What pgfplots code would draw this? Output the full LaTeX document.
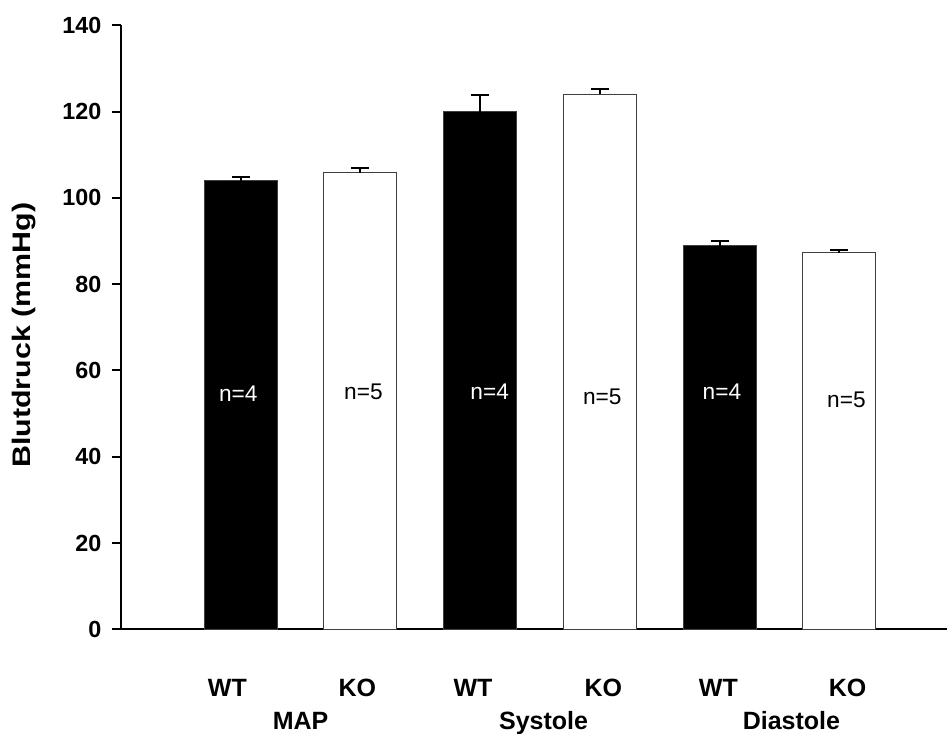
\documentclass[border=0pt]{standalone}
\usepackage{pgfplots}
\pgfplotsset{compat=1.18}
\usepackage{fontspec}
\setmainfont{Liberation Sans}

% measurements taken per pixel: 1px = 0.75pt
\begin{document}
\begin{tikzpicture}
\begin{axis}[
  name=ax,
  scale only axis,
  width=619.5pt, height=453pt,
  xmin=0, xmax=6.9,
  ymin=0, ymax=140,
  axis x line=bottom, axis y line=left,
  axis line style={-, line width=1.5pt, black},
  xtick=\empty,
  ytick={0,20,...,140},
  tick align=outside,
  major tick length=6.75pt,
  tick style={line width=1.5pt, black},
  /pgf/number format/assume math mode=true,
  yticklabel style={font=\bfseries\fontsize{17.5}{19}\selectfont, xshift=-4.5pt},
  clip=false,
  ybar, bar width=0.61,
]
% WT groups (black bars)
\addplot[bar shift=0pt, fill=black, draw=black!75, line width=0.75pt,
  error bars/.cd, y dir=plus, y explicit,
  error bar style={line width=1.5pt, black},
  error mark options={rotate=90, mark size=6.75pt, line width=1.5pt, black}]
  coordinates {(1,104.0) +- (0,0.9) (3,120.0) +- (0,3.8) (5,88.9) +- (0,1.15)};
% KO groups (white bars)
\addplot[bar shift=0pt, fill=white, draw=black!75, line width=0.75pt,
  error bars/.cd, y dir=plus, y explicit,
  error bar style={line width=1.5pt, black},
  error mark options={rotate=90, mark size=6.75pt, line width=1.5pt, black}]
  coordinates {(2,105.85) +- (0,1.0) (4,124.0) +- (0,1.3) (6,87.3) +- (0,0.7)};

% sample sizes inside the bars
\begin{scope}[every node/.style={font=\fontsize{17}{19}\selectfont}]
\node[white] at (axis cs:0.98,54.6) {n=4};
\node at (axis cs:2.025,55.0) {n=5};
\node[white] at (axis cs:3.08,55.0) {n=4};
\node at (axis cs:4.02,53.9) {n=5};
\node[white] at (axis cs:5.02,55.0) {n=4};
\node at (axis cs:6.06,53.1) {n=5};
\end{scope}

% group and genotype labels below the axis
\begin{scope}[every node/.style={font=\bfseries\fontsize{18.75}{20}\selectfont, anchor=base, inner sep=0pt}]
\node at ([yshift=-50.6pt]axis cs:0.889,0) {WT};
\node at ([yshift=-50.6pt]axis cs:1.974,0) {KO};
\node at ([yshift=-50.6pt]axis cs:2.94,0) {WT};
\node at ([yshift=-50.6pt]axis cs:4.03,0) {KO};
\node at ([yshift=-50.6pt]axis cs:4.99,0) {WT};
\node at ([yshift=-50.6pt]axis cs:6.07,0) {KO};
\node at ([yshift=-74.8pt]axis cs:1.50,0) {MAP};
\node at ([yshift=-74.8pt]axis cs:3.53,0) {Systole};
\node at ([yshift=-74.8pt]axis cs:5.60,0) {Diastole};
\end{scope}

% y axis title
\node[rotate=90, anchor=center, font=\bfseries\fontsize{19}{20}\selectfont]
  at ([xshift=-72.75pt]rel axis cs:0,0.487) {\scalebox{1.2}[1]{Blutdruck (mmHg)}};
\end{axis}
\pgfresetboundingbox
\path ([shift={(-90.75pt,-77.8pt)}]ax.south west) rectangle ([shift={(0pt,472pt)}]ax.south east);
\end{tikzpicture}
\end{document}
